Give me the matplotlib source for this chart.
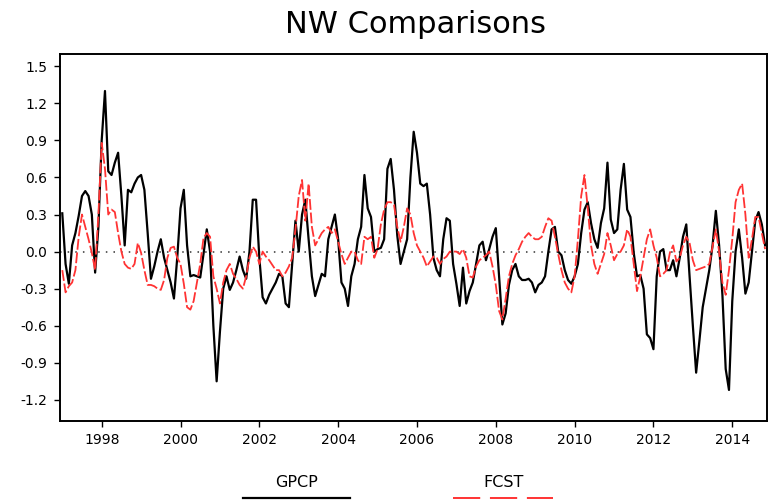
import matplotlib
matplotlib.use('Agg')
import matplotlib.pyplot as plt
from matplotlib.lines import Line2D
import numpy as np

# monthly anomalies, Jan 1997 onward
gpcp = [0.31, -0.1, -0.26, 0.05, 0.15, 0.29, 0.45, 0.49, 0.45, 0.3, -0.17, 0.2,
        0.9, 1.3, 0.65, 0.62, 0.72, 0.8, 0.45, 0.05, 0.5, 0.48, 0.55, 0.6,
        0.62, 0.5, 0.15, -0.22, -0.12, 0.0, 0.1, -0.05, -0.15, -0.25, -0.38, -0.05,
        0.35, 0.5, 0.05, -0.2, -0.19, -0.2, -0.21, -0.02, 0.18, 0.0, -0.6, -1.05,
        -0.65, -0.3, -0.2, -0.31, -0.25, -0.15, -0.04, -0.15, -0.22, 0.0, 0.42, 0.42,
        -0.05, -0.37, -0.42, -0.35, -0.3, -0.25, -0.18, -0.2, -0.42, -0.45, -0.1, 0.25,
        0.0, 0.3, 0.42, 0.1, -0.2, -0.36, -0.27, -0.18, -0.2, 0.1, 0.2, 0.3,
        0.1, -0.25, -0.3, -0.44, -0.2, -0.1, 0.1, 0.2, 0.62, 0.35, 0.28, 0.0,
        0.02, 0.03, 0.1, 0.67, 0.75, 0.5, 0.13, -0.1, 0.0, 0.1, 0.6, 0.97,
        0.8, 0.55, 0.53, 0.55, 0.3, -0.05, -0.15, -0.2, 0.1, 0.27, 0.25, -0.1,
        -0.26, -0.44, -0.13, -0.42, -0.32, -0.25, -0.1, 0.05, 0.08, -0.07, 0.02, 0.12,
        0.19, -0.2, -0.59, -0.5, -0.27, -0.15, -0.1, -0.2, -0.23, -0.23, -0.22, -0.25,
        -0.33, -0.27, -0.25, -0.2, 0.0, 0.18, 0.2, 0.0, -0.03, -0.15, -0.23, -0.26,
        -0.2, -0.1, 0.15, 0.34, 0.4, 0.23, 0.1, 0.03, 0.23, 0.35, 0.72, 0.26,
        0.15, 0.18, 0.5, 0.71, 0.34, 0.28, -0.01, -0.2, -0.19, -0.3, -0.67, -0.7,
        -0.79, -0.2, 0.0, 0.02, -0.15, -0.15, -0.07, -0.2, -0.05, 0.12, 0.22, -0.2,
        -0.6, -0.98, -0.72, -0.45, -0.3, -0.15, 0.05, 0.33, 0.05, -0.35, -0.95, -1.12,
        -0.4, 0.0, 0.18, -0.05, -0.34, -0.25, 0.0, 0.25, 0.32, 0.22, 0.05]

fcst = [-0.15, -0.33, -0.28, -0.25, -0.15, 0.12, 0.3, 0.2, 0.1, -0.01, -0.15, 0.3,
        0.88, 0.67, 0.3, 0.34, 0.32, 0.15, 0.0, -0.1, -0.13, -0.14, -0.1, 0.07,
        -0.01, -0.15, -0.27, -0.27, -0.28, -0.3, -0.31, -0.23, -0.05, 0.03, 0.04, -0.05,
        -0.1, -0.26, -0.45, -0.47, -0.4, -0.25, -0.1, 0.11, 0.15, 0.12, -0.2, -0.3,
        -0.42, -0.25, -0.15, -0.1, -0.18, -0.22, -0.27, -0.3, -0.2, -0.05, 0.04, 0.0,
        -0.1, 0.0, -0.04, -0.07, -0.11, -0.15, -0.15, -0.2, -0.17, -0.12, -0.05, 0.18,
        0.45, 0.58, 0.25, 0.55, 0.2, 0.05, 0.1, 0.15, 0.18, 0.2, 0.15, 0.18,
        0.08, -0.02, -0.1, -0.05, 0.0, 0.0, -0.07, -0.1, 0.12, 0.1, 0.12, -0.05,
        0.02, 0.22, 0.34, 0.4, 0.4, 0.38, 0.2, 0.08, 0.2, 0.35, 0.3, 0.15,
        0.05, 0.0, -0.05, -0.12, -0.08, -0.04, -0.05, -0.1, -0.06, -0.04, 0.0, 0.0,
        0.0, -0.02, 0.02, -0.05, -0.2, -0.21, -0.12, -0.07, -0.05, -0.03, 0.0, -0.12,
        -0.27, -0.48, -0.55, -0.38, -0.2, -0.1, -0.03, 0.02, 0.08, 0.12, 0.15, 0.12,
        0.1, 0.1, 0.12, 0.2, 0.27, 0.25, 0.12, -0.02, -0.15, -0.25, -0.3, -0.33,
        -0.2, 0.1, 0.45, 0.62, 0.35, 0.05, -0.1, -0.18, -0.1, -0.02, 0.15, 0.05,
        -0.07, -0.02, 0.0, 0.05, 0.18, 0.12, -0.1, -0.32, -0.2, -0.05, 0.1, 0.18,
        0.05, -0.05, -0.2, -0.18, -0.15, -0.01, 0.05, -0.08, -0.05, 0.05, 0.12, 0.07,
        -0.07, -0.15, -0.14, -0.13, -0.12, -0.1, 0.04, 0.18, 0.0, -0.25, -0.35, -0.15,
        0.1, 0.4, 0.5, 0.55, 0.3, -0.05, 0.1, 0.28, 0.28, 0.15, 0.02]

years = [1998, 2000, 2002, 2004, 2006, 2008, 2010, 2012, 2014]
yticks = [1.5, 1.2, 0.9, 0.6, 0.3, 0.0, -0.3, -0.6, -0.9, -1.2]

months = np.arange(len(gpcp))

fig = plt.figure(figsize=(7.69, 5.04), dpi=100)
ax = fig.add_axes([0.078, 0.165, 0.9195, 0.728])

ax.axhline(0, color='#333333', lw=1.1, ls=(0, (1, 4)))
ax.plot(months, gpcp, color='black', lw=1.6)
ax.plot(months, fcst, color='#ff3333', lw=1.3, dashes=(6, 1.5))

ax.set_xlim(-0.7, 214.6)
ax.set_ylim(-1.37, 1.6)
ax.set_xticks([(y - 1997) * 12 for y in years])
ax.set_xticklabels([str(y) for y in years])
ax.set_yticks(yticks)
ax.set_yticklabels(['%.1f' % v for v in yticks])
ax.tick_params(direction='out', length=4, width=1, labelsize=10, colors='black', pad=5)
for s in ax.spines.values():
    s.set_linewidth(1.4)

fig.text(0.54, 0.952, 'NW Comparisons', ha='center', va='center', fontsize=22)

# legend below the plot
fig.text(0.386, 0.042, 'GPCP', ha='center', va='center', fontsize=11.5)
fig.add_artist(Line2D([0.316, 0.455], [0.011, 0.011], color='black', lw=1.6))
fig.text(0.655, 0.042, 'FCST', ha='center', va='center', fontsize=11.5)
fig.add_artist(Line2D([0.589, 0.719], [0.011, 0.011], color='#ff3333', lw=1.4,
                      dashes=(14, 5)))

fig.savefig('out.png', dpi=100)
